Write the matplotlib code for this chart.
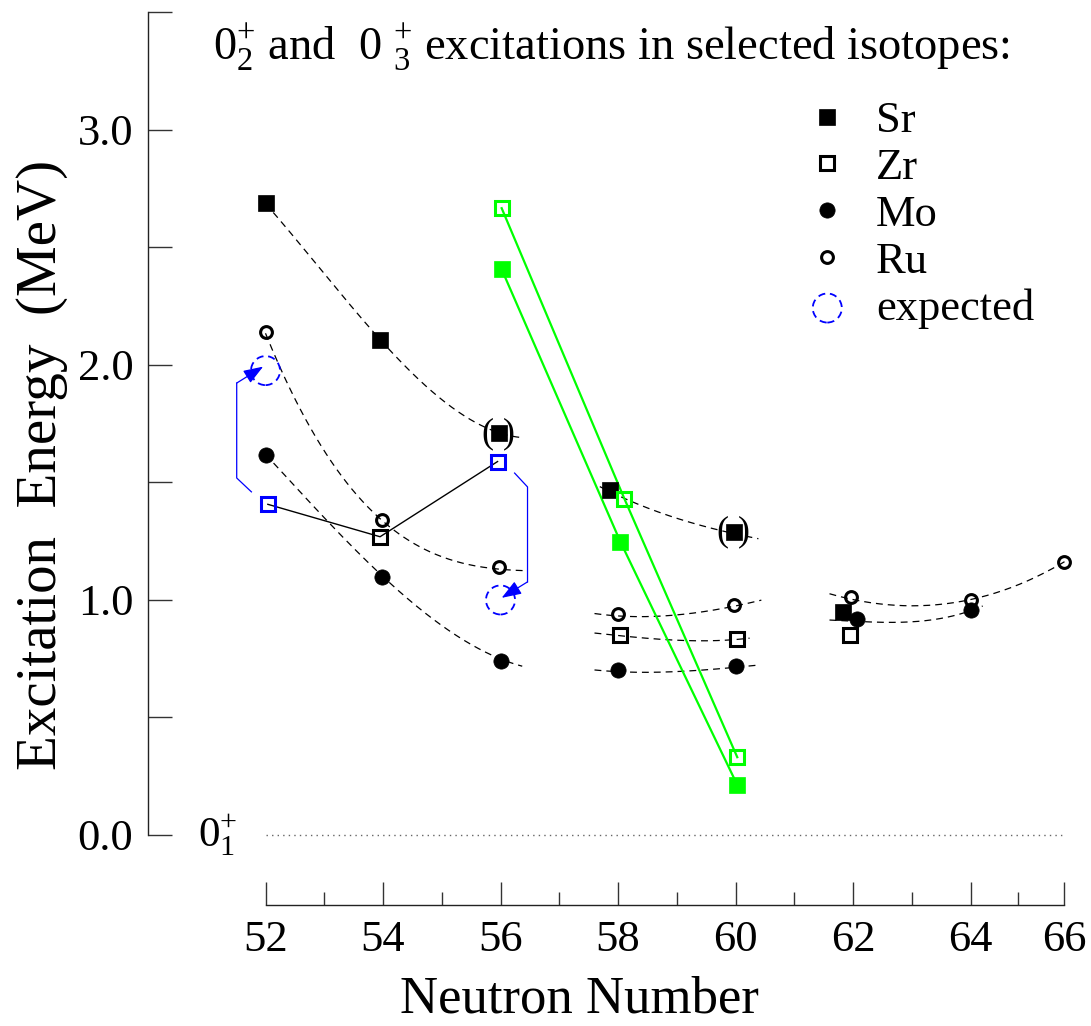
import numpy as np
import matplotlib
matplotlib.use("Agg")
import matplotlib.pyplot as plt
from matplotlib.lines import Line2D
from matplotlib.ticker import FixedLocator, FuncFormatter

plt.rcParams['font.family'] = ['Liberation Serif', 'DejaVu Serif']
plt.rcParams['mathtext.fontset'] = 'custom'
plt.rcParams['mathtext.rm'] = 'Liberation Serif'
plt.rcParams['mathtext.it'] = 'Liberation Serif:italic'
plt.rcParams['mathtext.default'] = 'rm'

# ---------------- data (neutron number, excitation energy in MeV) ----------------
sr_n = [52, 53.95, 55.97, 57.87, 59.97, 61.83]
sr_e = [2.69, 2.106, 1.709, 1.47, 1.29, 0.95]
sr_tentative_n = [55.97, 59.97]
sr_tentative_e = [1.709, 1.29]

zr_n = [53.95, 58.03, 60.03, 61.95]
zr_e = [1.269, 0.851, 0.834, 0.851]

zr_blue_n = [52.04, 55.95]
zr_blue_e = [1.407, 1.589]
zr_link_n = [52.04, 53.95, 55.95]
zr_link_e = [1.407, 1.269, 1.589]

mo_n = [52, 53.99, 56, 58, 60, 62.07, 64]
mo_e = [1.617, 1.099, 0.742, 0.702, 0.72, 0.918, 0.957]

ru_n = [52, 53.99, 55.98, 58, 59.98, 61.96, 64, 66]
ru_e = [2.139, 1.34, 1.139, 0.939, 0.979, 1.014, 1.0, 1.162]

sr_green_n = [56.02, 58.04, 60.03]
sr_green_e = [2.407, 1.248, 0.213]
zr_green_n = [56.02, 58.11, 60.03]
zr_green_e = [2.667, 1.43, 0.331]

expected_n = [52, 56]
expected_e = [1.976, 1.0]

# arrows from the measured Zr states to the expected positions
arrow1_n = [51.76, 51.51, 51.51, 51.96]
arrow1_e = [1.46, 1.519, 1.923, 1.993]
arrow2_n = [56.24, 56.46, 56.46, 56.02]
arrow2_e = [1.54, 1.481, 1.077, 1.009]

# dashed guide curves
guides = [
    ([52, 53.0, 53.69, 53.95, 54.22, 54.96, 55.64, 55.93, 56.38],
     [2.69, 2.38, 2.18, 2.106, 2.05, 1.865, 1.737, 1.709, 1.698]),
    ([52, 52.69, 53.26, 53.77, 53.99, 54.28, 54.96, 55.53, 55.98, 56.38],
     [2.139, 1.745, 1.567, 1.383, 1.34, 1.27, 1.184, 1.149, 1.139, 1.12]),
    ([52, 52.69, 53.26, 53.77, 53.99, 54.96, 55.53, 55.99, 56.37],
     [1.617, 1.44, 1.284, 1.142, 1.099, 0.915, 0.801, 0.742, 0.723]),
    ([57.69, 57.87, 58.71, 59.44, 59.95, 60.39],
     [1.475, 1.47, 1.369, 1.312, 1.29, 1.258]),
    ([57.6, 58.0, 58.71, 59.67, 59.98, 60.44],
     [0.939, 0.939, 0.926, 0.957, 0.979, 0.997]),
    ([57.6, 58.03, 58.71, 59.5, 60.03, 60.24],
     [0.858, 0.851, 0.83, 0.827, 0.834, 0.836]),
    ([57.6, 58.0, 58.4, 59.3, 60.0, 60.4],
     [0.699, 0.702, 0.689, 0.695, 0.72, 0.72]),
    ([61.6, 61.96, 62.73, 63.59, 64.0, 64.89, 66.0],
     [1.021, 1.014, 0.971, 0.986, 1.0, 1.057, 1.162]),
    ([61.6, 62.07, 62.46, 63.3, 64.0, 64.26],
     [0.912, 0.918, 0.897, 0.915, 0.957, 0.972]),
]

x_major = [52, 54, 56, 58, 60, 62, 64, 66]
x_minor = [53, 55, 57, 59, 61, 63, 65]
y_major = [0, 1, 2, 3]
y_minor = [0.5, 1.5, 2.5, 3.5]

legend_labels = ['Sr', 'Zr', 'Mo', 'Ru', 'expected']

# ---------------- styling ----------------
GREEN = '#00ff00'
BLUE = '#0000ff'


def fwd(x):
    x = np.asarray(x, dtype=float)
    return np.where(x <= 64, x, 64 + (x - 64) * 0.8)


def inv(y):
    y = np.asarray(y, dtype=float)
    return np.where(y <= 64, y, 64 + (y - 64) / 0.8)


fig = plt.figure(figsize=(10.91, 10.26), dpi=100)
ax = fig.add_axes([148 / 1091, (1026 - 905) / 1026, 940 / 1091, 904.3 / 1026])
ax.set_xscale('function', functions=(fwd, inv))
ax.set_xlim(50, 66.5)
ax.set_ylim(-0.298, 3.55)

for s in ['top', 'right']:
    ax.spines[s].set_visible(False)
ax.spines['left'].set_bounds(0, 3.5)
ax.spines['bottom'].set_bounds(52, 66)
for s in ['left', 'bottom']:
    ax.spines[s].set_linewidth(1.0)
    ax.spines[s].set_color('#222222')

ax.xaxis.set_major_locator(FixedLocator(x_major))
ax.xaxis.set_minor_locator(FixedLocator(x_minor))
ax.xaxis.set_major_formatter(FuncFormatter(lambda v, p: f"{v:.0f}"))
ax.xaxis.set_minor_formatter(FuncFormatter(lambda v, p: ""))
ax.yaxis.set_major_locator(FixedLocator(y_major))
ax.yaxis.set_minor_locator(FixedLocator(y_minor))
ax.yaxis.set_major_formatter(FuncFormatter(lambda v, p: f"{v:.1f}"))
ax.yaxis.set_minor_formatter(FuncFormatter(lambda v, p: ""))

ax.tick_params(axis='y', which='both', direction='in', length=17, width=1.0,
               color='#333333', labelsize=32, pad=10.5)
ax.tick_params(axis='x', which='major', direction='in', length=16.5, width=1.0,
               color='#333333', labelsize=32, pad=10.5)
ax.tick_params(axis='x', which='minor', direction='in', length=9.4, width=1.0,
               color='#333333')

# ground state reference line
ax.hlines(0, 52, 66, colors='#666666', linestyles=(0, (1, 3)), lw=1.0)
ax.text(50.85, 0, r'$0^{+}_{1}$', fontsize=31, ha='left', va='center')

# dashed guide curves
for gx, gy in guides:
    xf = fwd(gx)
    deg = 3 if len(gx) > 4 else 2
    c = np.polyfit(xf, gy, deg)
    xx = np.linspace(xf.min(), xf.max(), 200)
    ax.plot(inv(xx), np.polyval(c, xx), color='black', lw=0.9,
            ls=(0, (5.5, 4)), zorder=2)

# green lines
ax.plot(sr_green_n, sr_green_e, color=GREEN, lw=1.6, zorder=2)
ax.plot(zr_green_n, zr_green_e, color=GREEN, lw=1.6, zorder=2)

# black Zr link line
ax.plot(zr_link_n, zr_link_e, color='black', lw=1.0, zorder=2)

# blue arrows
for an, ae in [(arrow1_n, arrow1_e), (arrow2_n, arrow2_e)]:
    ax.plot(an[:-1], ae[:-1], color=BLUE, lw=0.9, zorder=2)
    ax.annotate('', xy=(an[-1], ae[-1]), xytext=(an[-2], ae[-2]),
                arrowprops=dict(arrowstyle='-|>,head_length=0.55,head_width=0.2',
                                color=BLUE, lw=0.9,
                                mutation_scale=22, shrinkA=0, shrinkB=0),
                zorder=3)

# markers
sq_f = dict(marker='s', ls='none', ms=11.5, mew=0.5, zorder=4)
sq_o = dict(marker='s', ls='none', ms=10, mew=2.2, mfc='none', zorder=4)
ci_f = dict(marker='o', ls='none', ms=11, mew=0.5, zorder=4)
ci_o = dict(marker='o', ls='none', ms=8.5, mew=2.2, mfc='none', zorder=4)

ax.plot(sr_n, sr_e, color='black', **sq_f)
ax.plot(sr_green_n, sr_green_e, color=GREEN, **sq_f)
ax.plot(zr_n, zr_e, mec='black', **sq_o)
ax.plot(zr_blue_n, zr_blue_e, mec=BLUE, **sq_o)
ax.plot(zr_green_n, zr_green_e, mec=GREEN, **sq_o)
ax.plot(mo_n, mo_e, color='black', **ci_f)
ax.plot(ru_n, ru_e, mec='black', **ci_o)
exp_sc = ax.scatter(expected_n, expected_e, s=437, facecolors='none',
                    edgecolors=BLUE, linewidths=1.3, linestyles=[(0, (4, 2.6))],
                    zorder=4)

for tn, te in zip(sr_tentative_n, sr_tentative_e):
    ax.text(tn, te, '( )', fontsize=26, ha='center', va='center', zorder=5)

# title
ax.text(51.1, 3.298, r'$0^{+}_{2}$ and  0 $^{+}_{3}$ excitations in selected isotopes:',
        fontsize=33.5, ha='left', va='baseline')

# legend
handles = [
    Line2D([], [], color='black', **sq_f),
    Line2D([], [], mec='black', **sq_o),
    Line2D([], [], color='black', **ci_f),
    Line2D([], [], mec='black', **ci_o),
    exp_sc,
]
ax.legend(handles, legend_labels, loc='upper left', bbox_to_anchor=(0.699, 0.889),
          frameon=False, fontsize=32, handlelength=1.0, handletextpad=0.6,
          labelspacing=0.15, borderpad=0, borderaxespad=0, scatterpoints=1)

ax.set_xlabel('Neutron Number', fontsize=38)
ax.set_ylabel('Excitation  Energy  (MeV)', fontsize=41)
ax.xaxis.set_label_coords(0.4585, -0.078)
ax.yaxis.set_label_coords(-0.085, 0.487)

fig.savefig('out.png', dpi=100)
